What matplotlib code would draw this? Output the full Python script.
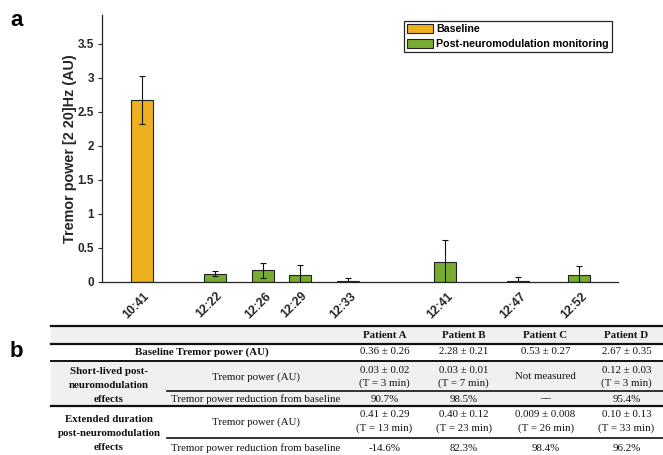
import matplotlib.pyplot as plt
from matplotlib.lines import Line2D
from matplotlib.patches import Rectangle
from matplotlib.ticker import FormatStrFormatter
from matplotlib.transforms import ScaledTranslation

# ---- chart data ----
times = ['10:41', '12:22', '12:26', '12:29', '12:33', '12:41', '12:47', '12:52']
power = [2.67, 0.12, 0.165, 0.095, 0.012, 0.29, 0.006, 0.095]
power_err = [0.35, 0.03, 0.115, 0.145, 0.045, 0.32, 0.06, 0.135]
is_baseline = [True, False, False, False, False, False, False, False]

# ---- table data ----
patients = ['Patient A', 'Patient B', 'Patient C', 'Patient D']
baseline_power = ['0.36 ± 0.26', '2.28 ± 0.21', '0.53 ± 0.27', '2.67 ± 0.35']
short_power = ['0.03 ± 0.02', '0.03 ± 0.01', 'Not measured', '0.12 ± 0.03']
short_T = ['(T = 3 min)', '(T = 7 min)', '', '(T = 3 min)']
short_red = ['90.7%', '98.5%', '\u2013\u2013', '95.4%']
ext_power = ['0.41 ± 0.29', '0.40 ± 0.12', '0.009 ± 0.008', '0.10 ± 0.13']
ext_T = ['(T = 13 min)', '(T = 23 min)', '(T = 26 min)', '(T = 33 min)']
ext_red = ['-14.6%', '82.3%', '98.4%', '96.2%']

ORANGE = '#EDB120'
GREEN = '#77AC30'
DARK = '#262626'

W, H = 663, 455
fig = plt.figure(figsize=(W / 100, H / 100), dpi=100)
plt.rcParams['font.family'] = ['Liberation Sans', 'DejaVu Sans']


def fx(x):
    return x / W


def fy(y):
    return 1 - y / H


# x positions: minutes after 12:00, baseline drawn just before (axis break)
def minutes(t):
    h, m = t.split(':')
    return (int(h) - 12) * 60 + int(m)


post_x = [minutes(t) for t, b in zip(times, is_baseline) if not b]
xpos = []
for t, b in zip(times, is_baseline):
    xpos.append(post_x[0] - 6 if b else minutes(t))

ax = fig.add_axes([fx(101.7), fy(281.7), fx(618.3) - fx(101.7), fy(15) - fy(281.7)])
colors = [ORANGE if b else GREEN for b in is_baseline]
ax.bar(xpos, power, width=1.8, color=colors, edgecolor='#222222', linewidth=0.8, zorder=2)
ax.errorbar(xpos, power, yerr=power_err, fmt='none', ecolor='#111111',
            elinewidth=0.8, capsize=2, capthick=0.8, zorder=3)

ax.set_xlim(12.7, 55.25)
ax.set_ylim(0, 3.92)
ax.set_yticks([0, 0.5, 1, 1.5, 2, 2.5, 3, 3.5])
ax.yaxis.set_major_formatter(FormatStrFormatter('%g'))
ax.set_xticks(xpos)
ax.set_xticklabels([])
# rotated time labels, shifted a little right of each bar like the original
lab_tr = ax.get_xaxis_transform() + ScaledTranslation(6 / 100, -12.5 / 100, fig.dpi_scale_trans)
for x, t in zip(xpos, times):
    ax.text(x, 0, t, transform=lab_tr, rotation=45, ha='right', va='center',
            rotation_mode='anchor', fontsize=8.8, fontweight='bold', color=DARK)
for s in ['top', 'right']:
    ax.spines[s].set_visible(False)
for s in ['left', 'bottom']:
    ax.spines[s].set_color(DARK)
    ax.spines[s].set_linewidth(0.9)
ax.tick_params(axis='y', direction='out', length=3, width=0.8, color=DARK,
               labelsize=8.5, pad=2.5, labelcolor=DARK)
ax.tick_params(axis='x', length=0)
for lab in ax.get_yticklabels():
    lab.set_fontweight('bold')
ax.set_ylabel('Tremor power [2 20]Hz (AU)', fontsize=10.4, fontweight='bold',
              color=DARK, labelpad=0.5)

handles = [Rectangle((0, 0), 1, 1, facecolor=ORANGE, edgecolor='#222222', linewidth=0.8),
           Rectangle((0, 0), 1, 1, facecolor=GREEN, edgecolor='#222222', linewidth=0.8)]
leg = ax.legend(handles, ['Baseline', 'Post-neuromodulation monitoring'],
                loc='upper right', bbox_to_anchor=(0.988, 0.9775), borderaxespad=0,
                fancybox=False, framealpha=1, edgecolor=DARK,
                prop={'size': 7.7, 'weight': 'bold'}, handlelength=2.4,
                handleheight=0.95, handletextpad=0.3, borderpad=0.3, labelspacing=0.4)
leg.get_frame().set_linewidth(0.9)

fig.text(fx(10), fy(26), 'a', fontsize=16, fontweight='bold', ha='left', va='baseline')
fig.text(fx(10), fy(357), 'b', fontsize=16, fontweight='bold', ha='left', va='baseline')

# ---- table ----
serif = ['Liberation Serif', 'DejaVu Serif']
FS = 7.8
col_c = [384.5, 463.5, 545.5, 626.5]
left, right = 51, 665
sub_left = 167

# shaded bands
for y0, y1 in [(325.7, 344), (360.5, 406)]:
    fig.patches.append(Rectangle((fx(left), fy(y1)), fx(right) - fx(left), fy(y0) - fy(y1),
                                 transform=fig.transFigure, facecolor='#F0F0F0',
                                 edgecolor='none', zorder=0))

for y, x0, lw in [(325.7, left, 1.6), (344, left, 1.6), (360.5, left, 1.4), (391, sub_left, 1.2),
                  (406, left, 1.6), (438, sub_left, 1.2)]:
    fig.add_artist(Line2D([fx(x0), fx(right)], [fy(y), fy(y)], color='#111111', linewidth=lw,
                          transform=fig.transFigure))


def cell(x, y, s, bold=False):
    fig.text(fx(x), fy(y), s, fontsize=FS, family=serif, ha='center', va='center',
             fontweight='bold' if bold else 'normal', color='#111111')


for i, p in enumerate(patients):
    cell(col_c[i], 335, p, bold=True)
    cell(col_c[i], 352, baseline_power[i])
    if short_T[i]:
        cell(col_c[i], 370.5, short_power[i])
        cell(col_c[i], 383.5, short_T[i])
    else:
        cell(col_c[i], 376.5, short_power[i])
    cell(col_c[i], 399, short_red[i])
    cell(col_c[i], 414.5, ext_power[i])
    cell(col_c[i], 428.5, ext_T[i])
    cell(col_c[i], 448.3, ext_red[i])

cell(202, 352, 'Baseline Tremor power (AU)', bold=True)
cell(256, 376.7, 'Tremor power (AU)')
cell(256, 399, 'Tremor power reduction from baseline')
cell(256, 421.7, 'Tremor power (AU)')
cell(256, 448.3, 'Tremor power reduction from baseline')
for y, s in [(371.7, 'Short-lived post-'), (386, 'neuromodulation'), (400, 'effects'),
             (419, 'Extended duration'), (433.3, 'post-neuromodulation'), (447.7, 'effects')]:
    cell(109, y, s, bold=True)

fig.savefig('out.png', dpi=100)
